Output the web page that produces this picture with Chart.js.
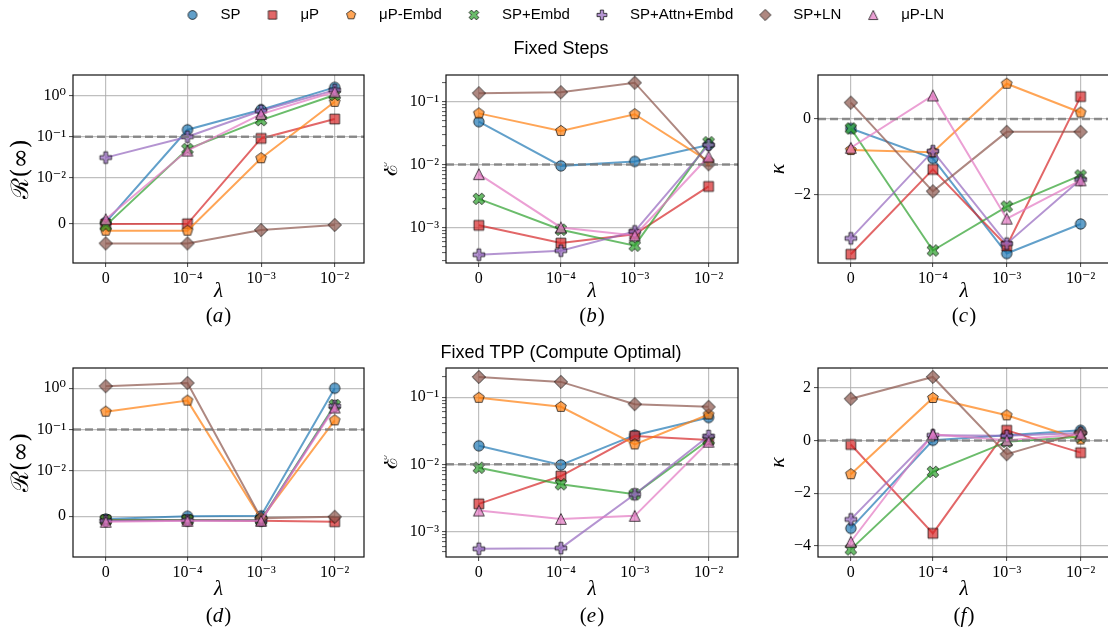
<!DOCTYPE html>
<html><head><meta charset="utf-8">
<script src="https://cdn.jsdelivr.net/npm/chart.js@4/dist/chart.umd.min.js"></script>
<style>
html,body{margin:0;padding:0;background:#fff;overflow:hidden;width:1108px;height:632px;}
#wrap{position:relative;width:1108px;height:632px;overflow:hidden;background:#fff;}
#wrap canvas{position:absolute;}
</style></head><body><div id="wrap"></div>
<script>
// ---------------- data ----------------
const lambdas = [0, 1e-4, 1e-3, 1e-2];
const xTickLabels = ['0', '10⁻⁴', '10⁻³', '10⁻²'];
const seriesNames = ['SP', 'μP', 'μP-Embd', 'SP+Embd', 'SP+Attn+Embd', 'SP+LN', 'μP-LN'];
const seriesColors = ['#1f77b4', '#d62728', '#ff7f0e', '#2ca02c', '#9467bd', '#8c564b', '#e377c2'];
const seriesMarkers = ['circle', 'square', 'pentagon', 'x', 'plus', 'diamond', 'triangle'];

// R(inf), Fixed Steps  (rows: series in seriesNames order; cols: lambdas)
const rInfFixedSteps = [
  [0.0002, 0.148, 0.456, 1.6],
  [-0.00015, -0.0001, 0.091, 0.27],
  [-0.0016, -0.0016, 0.030, 0.71],
  [-0.0005, 0.05, 0.255, 1.04],
  [0.031, 0.1, 0.43, 1.37],
  [-0.0044, -0.0044, -0.00146, -0.00036],
  [0.0009, 0.046, 0.357, 1.25]
];
// E, Fixed Steps
const errFixedSteps = [
  [0.048, 0.00952, 0.0112, 0.0205],
  [0.00108, 0.000564, 0.00078, 0.00448],
  [0.065, 0.0342, 0.063, 0.0112],
  [0.00285, 0.00092, 0.000513, 0.0226],
  [0.000368, 0.000427, 0.000865, 0.0205],
  [0.136, 0.141, 0.2, 0.0101],
  [0.00703, 0.001, 0.000747, 0.0134]
];
// kappa, Fixed Steps
const kappaFixedSteps = [
  [-0.25, -1.04, -3.55, -2.77],
  [-3.57, -1.33, -3.35, 0.59],
  [-0.82, -0.88, 0.93, 0.17],
  [-0.25, -3.47, -2.31, -1.49],
  [-3.15, -0.85, -3.29, -1.6],
  [0.43, -1.91, -0.34, -0.34],
  [-0.76, 0.62, -2.63, -1.62]
];
// R(inf), Fixed TPP
const rInfFixedTPP = [
  [-0.0006, 0.0, 0.0001, 1.0],
  [-0.0008, -0.0008, -0.001, -0.0012],
  [0.27, 0.50, -0.0006, 0.166],
  [-0.0008, -0.0008, -0.0008, 0.39],
  [-0.001, -0.0009, -0.0009, 0.37],
  [1.12, 1.34, -0.0004, -0.0001],
  [-0.0012, -0.001, -0.001, 0.34]
];
// E, Fixed TPP
const errFixedTPP = [
  [0.0189, 0.0098, 0.0272, 0.0499],
  [0.00258, 0.0067, 0.0264, 0.023],
  [0.098, 0.0718, 0.0198, 0.0553],
  [0.0089, 0.00505, 0.00358, 0.023],
  [0.000553, 0.000565, 0.00358, 0.0264],
  [0.2, 0.169, 0.0787, 0.0718],
  [0.00205, 0.00154, 0.00171, 0.0217]
];
// kappa, Fixed TPP
const kappaFixedTPP = [
  [-3.34, 0.01, 0.2, 0.39],
  [-0.15, -3.53, 0.39, -0.46],
  [-1.28, 1.62, 0.96, 0.04],
  [-4.14, -1.19, -0.05, 0.14],
  [-3.0, 0.2, 0.18, 0.29],
  [1.59, 2.42, -0.52, 0.3],
  [-3.85, 0.24, 0.01, 0.24]
];
const refValues = [0.1, 0.01, 0, 0.1, 0.01, 0];
const symlogYTicks = [0, 0.01, 0.1, 1];
const symlogYLabels = ['0', '10⁻²', '10⁻¹', '10⁰'];
const logYTicks = [0.001, 0.01, 0.1];
const logYLabels = ['10⁻³', '10⁻²', '10⁻¹'];
const kappaStepsTicks = [-2, 0];
const kappaStepsLabels = ['−2', '0'];
const kappaTPPTicks = [-4, -2, 0, 2];
const kappaTPPLabels = ['−4', '−2', '0', '2'];

// ---------------- symlog scale ----------------
const LinearScale = Chart.registry.getScale('linear');
class SymlogScale extends LinearScale {
  _tf(v) {
    const c = this.options.linthresh, k = 1 / (1 - 0.1), a = Math.abs(v);
    return a <= c ? v / c * k : Math.sign(v) * (k + Math.log10(a / c));
  }
  _itf(t) {
    const c = this.options.linthresh, k = 1 / (1 - 0.1), a = Math.abs(t);
    return a <= k ? t * c / k : Math.sign(t) * c * Math.pow(10, a - k);
  }
  configure() {
    super.configure();
    this._tMin = this._tf(this.min);
    this._tRange = this._tf(this.max) - this._tMin;
  }
  getPixelForValue(value) {
    if (value === null || value === undefined || isNaN(value)) return NaN;
    return this.getPixelForDecimal((this._tf(value) - this._tMin) / this._tRange);
  }
  getValueForPixel(pixel) {
    return this._itf(this._tMin + this.getDecimalForPixel(pixel) * this._tRange);
  }
}
SymlogScale.id = 'symlog';
SymlogScale.defaults = {};
Chart.register(SymlogScale);

Chart.defaults.color = '#000';
Chart.defaults.animation = false;

// ---------------- markers ----------------
function rgba(hex, a) {
  const n = parseInt(hex.slice(1), 16);
  return `rgba(${(n >> 16) & 255},${(n >> 8) & 255},${n & 255},${a})`;
}
function markerCanvas(shape, color, s) {
  const n = 2 * Math.ceil(8 * s);
  const cv = document.createElement('canvas');
  cv.width = n; cv.height = n;
  const g = cv.getContext('2d');
  g.translate(n / 2, n / 2);
  g.beginPath();
  const poly = (pts, f) => { pts.forEach((p, i) => i ? g.lineTo(p[0] * f, p[1] * f) : g.moveTo(p[0] * f, p[1] * f)); g.closePath(); };
  if (shape === 'circle') g.arc(0, 0, 5.2 * s, 0, Math.PI * 2);
  else if (shape === 'square') g.rect(-4.9 * s, -4.9 * s, 9.8 * s, 9.8 * s);
  else if (shape === 'pentagon') {
    const pts = []; for (let k = 0; k < 5; k++) { const a = -Math.PI / 2 + k * 2 * Math.PI / 5; pts.push([Math.cos(a), Math.sin(a)]); }
    poly(pts, 5.6 * s);
  } else if (shape === 'diamond') poly([[0, -1], [1, 0], [0, 1], [-1, 0]], 6.6 * s);
  else if (shape === 'triangle') poly([[0, -1], [1, 1], [-1, 1]], 5.4 * s);
  else if (shape === 'plus') poly([[-1, -3], [1, -3], [1, -1], [3, -1], [3, 1], [1, 1], [1, 3], [-1, 3], [-1, 1], [-3, 1], [-3, -1], [-1, -1]], 5.8 * s / 3);
  else if (shape === 'x') poly([[-1, -2], [0, -1], [1, -2], [2, -1], [1, 0], [2, 1], [1, 2], [0, 1], [-1, 2], [-2, 1], [-1, 0], [-2, -1]], 5.8 * s / 2);
  g.fillStyle = rgba(color, 0.7); g.fill();
  g.lineWidth = 1; g.strokeStyle = 'rgba(0,0,0,0.7)'; g.stroke();
  return cv;
}
const panelMarkers = seriesMarkers.map((m, i) => markerCanvas(m, seriesColors[i], 1));
const legendMarkers = seriesMarkers.map((m, i) => markerCanvas(m, seriesColors[i], 0.85));

const wrap = document.getElementById('wrap');
function addCanvas(left, top, w, h) {
  const c = document.createElement('canvas');
  c.width = w; c.height = h;
  c.style.left = left + 'px'; c.style.top = top + 'px';
  c.style.width = w + 'px'; c.style.height = h + 'px';
  wrap.appendChild(c);
  return c;
}

// ---------------- plugins ----------------
const framePlugin = {
  id: 'frame',
  afterDatasetsDraw(chart, args, opts) {
    const ctx = chart.ctx, a = chart.chartArea;
    const y = chart.scales.y.getPixelForValue(opts.ref);
    ctx.save();
    ctx.setLineDash([8, 4]);
    ctx.strokeStyle = 'rgba(120,120,120,0.8)';
    ctx.lineWidth = 2.5;
    ctx.beginPath(); ctx.moveTo(a.left, y); ctx.lineTo(a.right, y); ctx.stroke();
    ctx.setLineDash([]);
    ctx.strokeStyle = '#111'; ctx.lineWidth = 1.2;
    ctx.strokeRect(a.left, a.top, a.right - a.left, a.bottom - a.top);
    ctx.restore();
  }
};
const letterPlugin = {
  id: 'panelLetter',
  afterDraw(chart, args, opts) {
    const ctx = chart.ctx, a = chart.chartArea, size = 21;
    const up = `${size}px "Liberation Serif"`, it = `italic ${size}px "Liberation Serif"`;
    ctx.save();
    ctx.font = up; const wp = ctx.measureText('(').width, wq = ctx.measureText(')').width;
    ctx.font = it; const wl = ctx.measureText(opts.letter).width;
    let x = (a.left + a.right) / 2 - (wp + wl + wq + 1) / 2;
    const y = a.bottom + opts.offset;
    ctx.textBaseline = 'middle'; ctx.textAlign = 'left'; ctx.fillStyle = '#000';
    ctx.font = up; ctx.fillText('(', x, y); x += wp;
    ctx.font = it; ctx.fillText(opts.letter, x, y); x += wl + 1;
    ctx.font = up; ctx.fillText(')', x, y);
    ctx.restore();
  }
};

// ---------------- panels ----------------
const serif = '"Liberation Serif", "DejaVu Serif", serif';
const mathSerif = '"DejaVu Serif", "Liberation Serif", serif';
const panels = [
  { letter: 'a', data: rInfFixedSteps, ref: refValues[0], yType: 'symlog', yMin: -0.0087, yMax: 3.2, yTicks: symlogYTicks, yLabels: symlogYLabels,
    yTitle: 'ℛ(∞)', yTitleFont: { family: mathSerif, size: 24, lineHeight: 1.2 }, yTitlePad: 6.3,
    L: 73, T: 75, W: 291, H: 188, yW: 72, xTitlePad: 31, letterOff: 53 },
  { letter: 'b', data: errFixedSteps, ref: refValues[1], yType: 'logarithmic', yMin: 2.72e-4, yMax: 0.265, yTicks: logYTicks, yLabels: logYLabels,
    yTitle: 'ℰ', yTitleFont: { family: mathSerif, size: 22, lineHeight: 1.2 }, yTitlePad: -6,
    L: 446, T: 75, W: 292, H: 188, yW: 62, xTitlePad: 31, letterOff: 53,
    title: 'Fixed Steps', titleTop: 30, titlePadTop: 8.5 },
  { letter: 'c', data: kappaFixedSteps, ref: refValues[2], yType: 'linear', yMin: -3.80, yMax: 1.16, yTicks: kappaStepsTicks, yLabels: kappaStepsLabels,
    yTitle: 'κ', yTitleFont: { family: serif, size: 22, style: 'italic', lineHeight: 1.2 }, yTitlePad: 19,
    L: 818, T: 75, W: 292, H: 188, yW: 72, xTitlePad: 31, letterOff: 53 },
  { letter: 'd', data: rInfFixedTPP, ref: refValues[3], yType: 'symlog', yMin: -0.0089, yMax: 3.1, yTicks: symlogYTicks, yLabels: symlogYLabels,
    yTitle: 'ℛ(∞)', yTitleFont: { family: mathSerif, size: 24, lineHeight: 1.2 }, yTitlePad: 6.3,
    L: 73, T: 368, W: 291, H: 189, yW: 72, xTitlePad: 27, letterOff: 59 },
  { letter: 'e', data: errFixedTPP, ref: refValues[4], yType: 'logarithmic', yMin: 4.17e-4, yMax: 0.272, yTicks: logYTicks, yLabels: logYLabels,
    yTitle: 'ℰ', yTitleFont: { family: mathSerif, size: 22, lineHeight: 1.2 }, yTitlePad: -6,
    L: 446, T: 368, W: 292, H: 189, yW: 62, xTitlePad: 27, letterOff: 59,
    title: 'Fixed TPP (Compute Optimal)', titleTop: 330, titlePadTop: 12.2 },
  { letter: 'f', data: kappaFixedTPP, ref: refValues[5], yType: 'linear', yMin: -4.43, yMax: 2.76, yTicks: kappaTPPTicks, yLabels: kappaTPPLabels,
    yTitle: 'κ', yTitleFont: { family: serif, size: 22, style: 'italic', lineHeight: 1.2 }, yTitlePad: 19,
    L: 818, T: 368, W: 292, H: 189, yW: 72, xTitlePad: 27, letterOff: 59 }
];

const gridColor = 'rgba(170,170,170,0.75)';
const tickFont = { family: serif, size: 16 };

function buildYTicks(p) {
  if (p.yType !== 'logarithmic') return p.yTicks.map(v => ({ value: v, major: true }));
  const out = [];
  for (let e = -5; e <= 1; e++) {
    for (let k = 1; k <= 9; k++) {
      const v = k * Math.pow(10, e);
      if (v >= p.yMin && v <= p.yMax) out.push({ value: v, major: k === 1 });
    }
  }
  return out;
}
function yLabelFor(p, v) {
  for (let i = 0; i < p.yTicks.length; i++) {
    if (Math.abs(v - p.yTicks[i]) <= 1e-9 + Math.abs(p.yTicks[i]) * 1e-6) return p.yLabels[i];
  }
  return '';
}

panels.forEach(p => {
  const padR = 18, xH = 72;
  const titleH = p.title ? (p.T - p.titleTop) : 0;
  const padTop = p.title ? 0 : 16;
  const top = p.title ? p.titleTop : p.T - padTop;
  const left = p.L - p.yW;
  const w = p.yW + p.W + padR;
  const h = padTop + titleH + p.H + xH;
  const cv = addCanvas(left, top, w, h);
  const datasets = p.data.map((vals, i) => ({
    label: seriesNames[i],
    data: lambdas.map((l, j) => ({ x: l, y: vals[j] })),
    borderColor: rgba(seriesColors[i], 0.7),
    backgroundColor: rgba(seriesColors[i], 0.7),
    borderWidth: 2,
    pointStyle: panelMarkers[i],
    pointRadius: 5,
    pointHoverRadius: 5,
    tension: 0,
    order: seriesNames.length - i
  }));
  const plugins = {
    legend: { display: false },
    tooltip: { enabled: false },
    frame: { ref: p.ref },
    panelLetter: { letter: p.letter, offset: p.letterOff }
  };
  if (p.title) {
    const lh = 18 * 1.2;
    plugins.title = {
      display: true, text: p.title,
      font: { family: '"Liberation Sans", Arial, sans-serif', size: 18, weight: 'normal', lineHeight: 1.2 },
      color: '#000',
      padding: { top: p.titlePadTop, bottom: titleH - p.titlePadTop - lh }
    };
  }
  new Chart(cv, {
    type: 'line',
    data: { datasets },
    options: {
      responsive: false, animation: false, devicePixelRatio: 1,
      events: [],
      layout: { padding: { left: 0, right: padR, top: padTop, bottom: 0 } },
      scales: {
        x: {
          type: 'symlog', linthresh: 1e-4, min: -4e-5, max: 0.025,
          afterBuildTicks: s => { s.ticks = lambdas.map(v => ({ value: v, major: true })); },
          afterFit: s => { s.height = xH; },
          ticks: { callback: (v, i) => xTickLabels[i], maxRotation: 0, minRotation: 0, autoSkip: false, font: tickFont, color: '#000', padding: 2 },
          grid: { color: gridColor, lineWidth: 1.2, drawTicks: true, tickLength: 4, tickColor: '#444', tickWidth: 1 },
          border: { display: false },
          title: { display: true, text: 'λ', color: '#000', font: { family: serif, size: 21, style: 'italic', lineHeight: 1.2 }, padding: { top: 0, bottom: p.xTitlePad } }
        },
        y: {
          type: p.yType, linthresh: 0.01, min: p.yMin, max: p.yMax,
          afterBuildTicks: s => { s.ticks = buildYTicks(p); },
          afterFit: s => { s.width = p.yW; },
          ticks: { callback: v => yLabelFor(p, v), autoSkip: false, font: tickFont, color: '#000', padding: 3 },
          grid: {
            color: c => (c.tick && c.tick.major === false) ? 'rgba(0,0,0,0)' : gridColor,
            lineWidth: 1.2, drawTicks: true, tickLength: 4,
            tickColor: c => (c.tick && c.tick.major === false) ? '#555' : '#444', tickWidth: 1
          },
          border: { display: false },
          title: { display: true, text: p.yTitle, color: '#000', font: p.yTitleFont, padding: { top: p.yTitlePad, bottom: 0 } }
        }
      },
      plugins
    },
    plugins: [framePlugin, letterPlugin]
  });
});

// ---------------- legend ----------------
const legendCv = addCanvas(0, -4, 1108, 120);
new Chart(legendCv, {
  type: 'line',
  data: {
    datasets: seriesNames.map((n, i) => ({
      label: n, data: [], pointStyle: legendMarkers[i], pointRadius: 5,
      borderColor: rgba(seriesColors[i], 0.7), backgroundColor: rgba(seriesColors[i], 0.7)
    }))
  },
  options: {
    responsive: false, animation: false, devicePixelRatio: 1, events: [],
    layout: { padding: { left: 8, right: 0, top: 0, bottom: 0 } },
    scales: { x: { display: false }, y: { display: false } },
    plugins: {
      tooltip: { enabled: false },
      legend: {
        display: true, position: 'top',
        labels: { usePointStyle: true, pointStyleWidth: 41, padding: 11.5, color: '#000',
          font: { family: '"Liberation Sans", Arial, sans-serif', size: 15 } }
      }
    }
  }
});
</script>
</body></html>
